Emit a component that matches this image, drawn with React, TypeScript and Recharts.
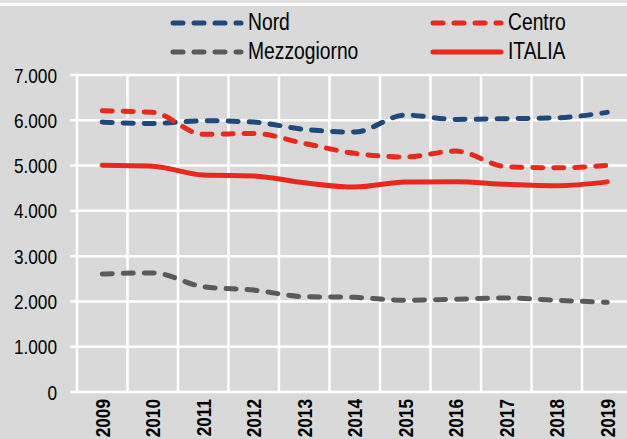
import React from 'react';
import { LineChart, Line, XAxis, YAxis, CartesianGrid, Legend } from 'recharts';

// valori (2009-2019)
const years = ['2009', '2010', '2011', '2012', '2013', '2014', '2015', '2016', '2017', '2018', '2019'];
const nord = [5960, 5930, 5990, 5960, 5800, 5740, 6115, 6020, 6035, 6055, 6175];
const centro = [6210, 6175, 5690, 5710, 5490, 5270, 5190, 5320, 4975, 4950, 5005];
const mezzogiorno = [2605, 2630, 2325, 2250, 2105, 2090, 2025, 2050, 2075, 2025, 1980];
const italia = [5005, 4985, 4790, 4770, 4620, 4525, 4635, 4640, 4585, 4555, 4640];
const yTicks = [0, 1000, 2000, 3000, 4000, 5000, 6000, 7000];

const FONT = "'Liberation Sans', Arial, sans-serif";
const NARROW = 0.82; // il font originale è un Arial Narrow

const data = years.map((year, i) => ({
  x: i + 0.5,
  year,
  nord: nord[i],
  centro: centro[i],
  mezzogiorno: mezzogiorno[i],
  italia: italia[i],
}));

const bandTicks = years.map((_, i) => i + 0.5);
const edgeTicks = [...years.map((_, i) => i), years.length];

const series = [
  { key: 'nord', name: 'Nord', color: '#1F497D', dash: '10 11' },
  { key: 'centro', name: 'Centro', color: '#E8291C', dash: '10 11' },
  { key: 'mezzogiorno', name: 'Mezzogiorno', color: '#5A5A5A', dash: '10 11' },
  { key: 'italia', name: 'ITALIA', color: '#E8291C', dash: undefined },
];

const fmt = (v: number) => v.toLocaleString('it-IT');

const YearTick = (props: any) => {
  const { x, y, payload } = props;
  const label = years[Math.floor(payload.value)];
  return (
    <text
      transform={`translate(${x}, ${y - 1}) rotate(-90) scale(${NARROW}, 1)`}
      textAnchor="end"
      dy="0.36em"
      fontFamily={FONT}
      fontSize={21}
      fontWeight="bold"
      fill="#000"
    >
      {label}
    </text>
  );
};

const ValueTick = (props: any) => {
  const { x, y, payload } = props;
  return (
    <text
      transform={`translate(${x}, ${y}) scale(${NARROW}, 1)`}
      textAnchor="end"
      dy="0.36em"
      fontFamily={FONT}
      fontSize={21}
      fill="#000"
    >
      {fmt(payload.value)}
    </text>
  );
};

const LegendContent = () => (
  <div
    style={{
      display: 'grid',
      gridTemplateColumns: '260px 200px',
      gridAutoRows: '29px',
      paddingLeft: 170,
      paddingTop: 8,
      fontFamily: FONT,
      fontSize: 23.5,
      color: '#000',
    }}
  >
    {series.map(s => (
      <div key={s.key} style={{ display: 'flex', alignItems: 'center', height: 29 }}>
        <svg width={74} height={10} style={{ marginRight: 4, flex: 'none' }}>
          <line
            x1={3}
            y1={5}
            x2={71}
            y2={5}
            stroke={s.color}
            strokeWidth={5}
            strokeLinecap="round"
            strokeDasharray={s.dash}
          />
        </svg>
        <span
          style={{
            lineHeight: '29px',
            display: 'inline-block',
            whiteSpace: 'nowrap',
            transform: `scaleX(${NARROW})`,
            transformOrigin: 'left center',
          }}
        >
          {s.name}
        </span>
      </div>
    ))}
  </div>
);

export default function App() {
  return (
    <div
      style={{
        position: 'fixed',
        left: 0,
        top: 0,
        width: 627,
        height: 439,
        overflow: 'hidden',
        background: '#D9D9D9',
      }}
    >
      <div style={{ position: 'absolute', left: 0, top: 0, width: 627, height: 3, background: '#E4E4E4' }} />
      <div style={{ position: 'absolute', left: 0, top: 3, width: 627, height: 3, background: '#FFFFFF' }} />
      <LineChart
        width={640}
        height={439}
        data={data}
        margin={{ top: 75, right: 7.5, bottom: 0, left: 0 }}
      >
        <CartesianGrid xAxisId="grid" stroke="#FFFFFF" strokeWidth={2.5} fill="none" />
        <XAxis
          xAxisId="grid"
          type="number"
          dataKey="x"
          domain={[0, years.length]}
          ticks={edgeTicks}
          height={0}
          axisLine={false}
          tickLine={{ stroke: '#FFFFFF', strokeWidth: 2.5 }}
          tickSize={6}
          tickFormatter={() => ''}
        />
        <XAxis
          xAxisId="yr"
          type="number"
          dataKey="x"
          domain={[0, years.length]}
          ticks={bandTicks}
          height={47}
          axisLine={false}
          tickLine={false}
          interval={0}
          tick={<YearTick />}
        />
        <YAxis
          domain={[0, 7000]}
          ticks={yTicks}
          width={77}
          axisLine={false}
          tickLine={{ stroke: '#FFFFFF', strokeWidth: 2.5 }}
          tickSize={7}
          tickMargin={13}
          tick={<ValueTick />}
        />
        <Legend
          layout="horizontal"
          verticalAlign="middle"
          align="center"
          wrapperStyle={{ position: 'absolute', top: 0, left: 0, width: 627, height: 70 }}
          content={<LegendContent />}
        />
        {series.map(s => (
          <Line
            key={s.key}
            xAxisId="yr"
            type="monotone"
            dataKey={s.key}
            name={s.name}
            stroke={s.color}
            strokeWidth={5}
            strokeLinecap="round"
            strokeDasharray={s.dash}
            dot={false}
            activeDot={false}
            isAnimationActive={false}
          />
        ))}
      </LineChart>
    </div>
  );
}
